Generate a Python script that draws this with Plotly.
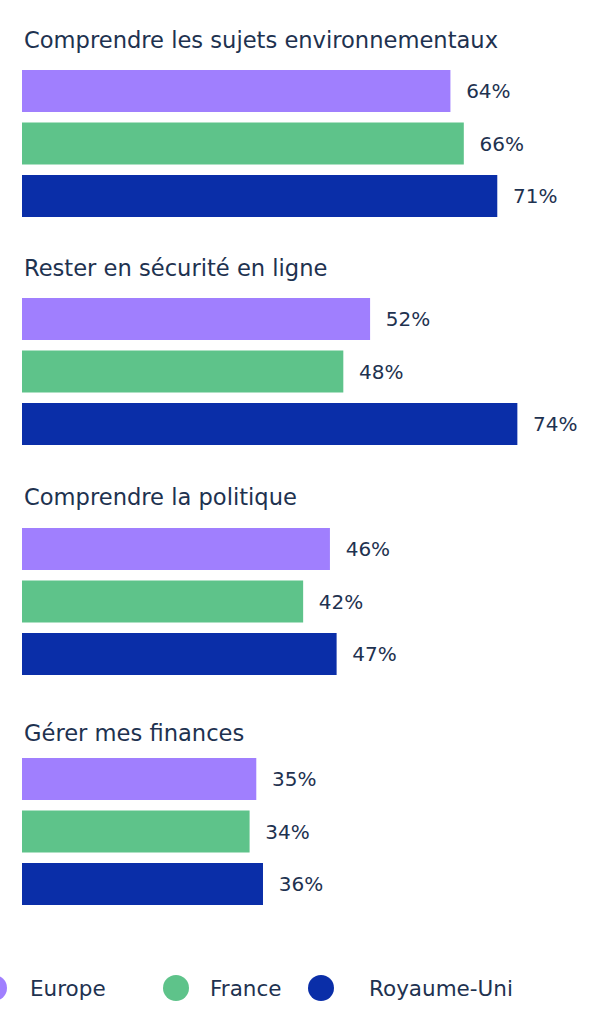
import plotly.graph_objects as go

# Data
categories = [
    "Comprendre les sujets environnementaux",
    "Rester en sécurité en ligne",
    "Comprendre la politique",
    "Gérer mes finances",
]
series = ["Europe", "France", "Royaume-Uni"]
europe = [64, 52, 46, 35]
france = [66, 48, 42, 34]
royaume_uni = [71, 74, 47, 36]

colors = {"Europe": "#a07ffe", "France": "#5ec38a", "Royaume-Uni": "#0a2ea8"}
text_color = "#1e3250"
font_family = "DejaVu Sans, sans-serif"

W, H = 591, 1024
# pixel spans of each group's bar area (top, bottom)
group_spans = [(64.75, 222.25), (292.75, 450.25), (522.75, 680.25), (752.75, 910.25)]
title_y = [40, 268, 497, 733]
x_left = 22 / W

values = {"Europe": europe, "France": france, "Royaume-Uni": royaume_uni}

fig = go.Figure()
layout_axes = {}
annotations = []
shapes = []

for i, cat in enumerate(categories):
    n = "" if i == 0 else str(i + 1)
    for s in series:
        fig.add_trace(go.Bar(
            x=[values[s][i]],
            y=[s],
            orientation="h",
            marker=dict(color=colors[s], line=dict(width=0)),
            texttemplate="\u00a0\u00a0%{x}%",
            textposition="outside",
            cliponaxis=False,
            textfont=dict(size=20, color=text_color, family=font_family),
            xaxis="x" + n,
            yaxis="y" + n,
            hoverinfo="skip",
        ))
    top, bottom = group_spans[i]
    layout_axes["xaxis" + n] = dict(
        domain=[x_left, 1], range=[0, 85], visible=False, anchor="y" + n,
    )
    layout_axes["yaxis" + n] = dict(
        domain=[1 - bottom / H, 1 - top / H],
        categoryorder="array", categoryarray=series[::-1],
        visible=False, anchor="x" + n,
    )
    annotations.append(dict(
        text=cat, x=x_left, y=1 - title_y[i] / H, xref="paper", yref="paper",
        xanchor="left", yanchor="middle", showarrow=False,
        font=dict(size=22.6, color=text_color, family=font_family),
    ))

# custom legend: round markers + labels
legend_y = 1 - 988 / H
marker_x = [-6, 176, 321]
label_x = [28, 208, 367]
for s, mx, lx in zip(series, marker_x, label_x):
    shapes.append(dict(
        type="circle", xref="paper", yref="paper",
        xsizemode="pixel", ysizemode="pixel",
        xanchor=mx / W, yanchor=legend_y,
        x0=-13, x1=13, y0=-13, y1=13,
        fillcolor=colors[s], line=dict(width=0),
    ))
    annotations.append(dict(
        text=s, x=lx / W, y=legend_y, xref="paper", yref="paper",
        xanchor="left", yanchor="middle", showarrow=False,
        font=dict(size=21.5, color=text_color, family=font_family),
    ))

fig.update_layout(
    width=W, height=H,
    margin=dict(l=0, r=0, t=0, b=0),
    paper_bgcolor="white", plot_bgcolor="white",
    bargap=0.2,
    showlegend=False,
    annotations=annotations,
    shapes=shapes,
    **layout_axes,
)

# drop the default page margin so the figure sits at the window's corner
fig.write_html(
    "out.html",
    config={"displayModeBar": False},
    post_script="document.body.style.margin='0';",
)
